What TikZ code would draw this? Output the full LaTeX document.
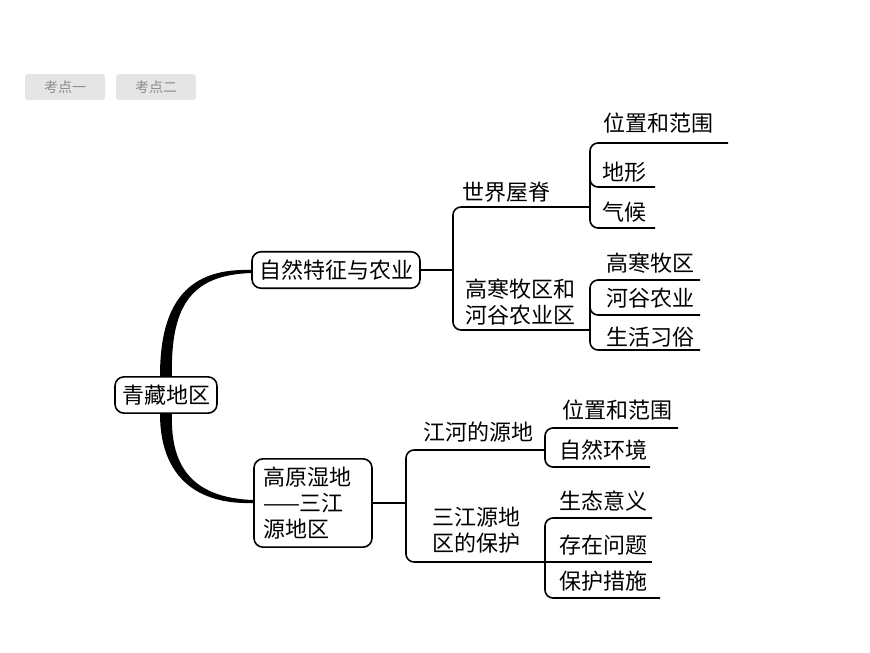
\documentclass[tikz,border=0pt]{standalone}
\usepackage{fontspec}
\setmainfont{Noto Sans CJK SC}
\begin{document}
\begin{tikzpicture}[x=1pt,y=-1pt,
  txt/.style={font=\fontsize{22}{26}\selectfont, inner sep=0pt},
  box/.style={txt, draw, line width=1.6pt, rounded corners=9pt, inner xsep=7pt, inner ysep=8pt},
  tab/.style={fill=black!10, rounded corners=3pt, text=black!45, font=\fontsize{14}{16}\selectfont, minimum width=80pt, minimum height=26pt, inner sep=0pt},
  ln/.style={line width=1.6pt, rounded corners=8pt}]
\useasboundingbox (0,0) rectangle (870,653);
\node[tab] (t1) at (65,87) {考点一};
\node[tab] (t2) at (156,87) {考点二};
% root and main boxes
\node[box] (root) at (166,395) {青藏地区};
\node[box] (a) at (336,270) {自然特征与农业};
\node[box, align=left, text width=100pt, inner xsep=9pt] (b) at (313,503) {高原湿地\\——三江\\源地区};
\fill (root.north) ++(-6,0) .. controls (160,300) and (190,268) .. (a.west) -- ++(0,3) .. controls (196,275) and (170,300) .. ([xshift=6pt]root.north) -- cycle;
\fill (root.south) ++(-6,0) .. controls (160,470) and (190,505) .. (b.west) -- ++(0,-3) .. controls (196,498) and (170,470) .. ([xshift=6pt]root.south) -- cycle;
% upper branches
\node[txt] (a1) at (506,192) {世界屋脊};
\node[txt, align=left] (a2) at (520,302) {高寒牧区和\\河谷农业区};
\coordinate (ja) at (453,270);
\draw[ln] (a.east) -- (ja);
\draw[ln] (590,207) -- (453,207) -- (453,330) -- (590,330);
\node[txt] (a11) at (658,123) {位置和范围};
\node[txt] (a12) at (624,172) {地形};
\node[txt] (a13) at (624,212) {气候};
\draw[ln] (728,143) -- (590,143) -- (590,228) -- (655,228);
\draw[ln] (655,187) -- (590,187) -- (590,170);
\node[txt] (a21) at (650,263) {高寒牧区};
\node[txt] (a22) at (650,298) {河谷农业};
\node[txt] (a23) at (650,337) {生活习俗};
\draw[ln] (700,280) -- (590,280) -- (590,350) -- (700,350);
\draw[ln] (700,315) -- (590,315) -- (590,300);
% lower branches
\node[txt] (b1) at (478,432) {江河的源地};
\node[txt, align=left] (b2) at (476,530) {三江源地\\区的保护};
\draw[ln] (b.east) -- (406,503);
\draw[ln] (545,450) -- (406,450) -- (406,562) -- (545,562);
\node[txt] (b11) at (617,410) {位置和范围};
\node[txt] (b12) at (603,450) {自然环境};
\draw[ln] (678,428) -- (545,428) -- (545,467) -- (650,467);
\node[txt] (b21) at (603,501) {生态意义};
\node[txt] (b22) at (603,545) {存在问题};
\node[txt] (b23) at (603,581) {保护措施};
\draw[ln] (652,518) -- (545,518) -- (545,598) -- (660,598);
\draw[ln] (652,562) -- (545,562);
\end{tikzpicture}
\end{document}
